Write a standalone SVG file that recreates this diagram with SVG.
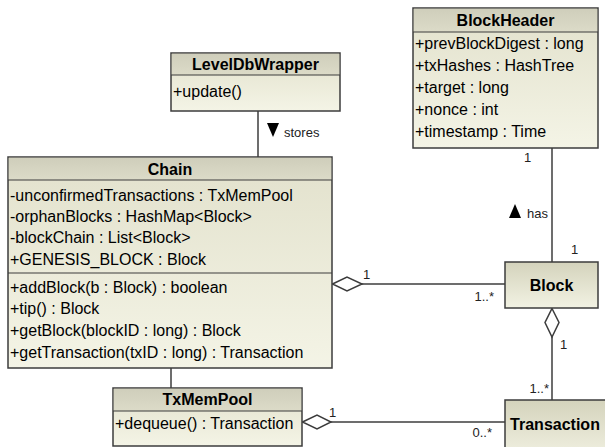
<svg xmlns="http://www.w3.org/2000/svg" width="605" height="447" viewBox="0 0 605 447">
  <defs>
    <linearGradient id="gHead" x1="0" y1="0" x2="0" y2="1">
      <stop offset="0" stop-color="#cfcebb"/>
      <stop offset="1" stop-color="#dcdbc8"/>
    </linearGradient>
    <linearGradient id="gBody" x1="0" y1="0" x2="0" y2="1">
      <stop offset="0" stop-color="#e2e1cc"/>
      <stop offset="1" stop-color="#f4f4e6"/>
    </linearGradient>
    <linearGradient id="gClass" x1="0" y1="0" x2="0" y2="1">
      <stop offset="0" stop-color="#d4d3bc"/>
      <stop offset="1" stop-color="#f2f2e3"/>
    </linearGradient>
  </defs>
  <style>
    text { font-family: "Liberation Sans", Arial, sans-serif; fill: #000; }
    .title { font-size: 16px; font-weight: bold; text-anchor: middle; }
    .member { font-size: 16px; }
    .lbl { font-size: 13px; fill: #222; }
    .box { stroke: #3c3c3c; stroke-width: 1.5; }
    .sep { stroke: #3c3c3c; stroke-width: 1.2; fill: none; }
    .conn { stroke: #3c3c3c; stroke-width: 1.5; fill: none; }
    .diamond { stroke: #3c3c3c; stroke-width: 1.5; fill: #fff; }
  </style>

  <!-- connectors -->
  <g id="connectors">
    <line class="conn" x1="258" y1="111" x2="258" y2="157"/>
    <line class="conn" x1="171" y1="368" x2="171" y2="388"/>
    <line class="conn" x1="362" y1="284" x2="505" y2="284"/>
    <polygon class="diamond" points="332.5,284 347,277 362,284 347,291"/>
    <line class="conn" x1="552" y1="148" x2="552" y2="262"/>
    <line class="conn" x1="552" y1="337" x2="552" y2="400"/>
    <polygon class="diamond" points="552,308.5 559,322.5 552,337 545,322.5"/>
    <line class="conn" x1="331" y1="422" x2="505" y2="422"/>
    <polygon class="diamond" points="302.5,422 317,415 331,422 317,429"/>

    <!-- association names -->
    <polygon points="267,123 279,123 273,137" fill="#000"/>
    <text class="lbl" x="284" y="137">stores</text>
    <polygon points="509,218 521,218 515,204" fill="#000"/>
    <text class="lbl" x="527" y="218">has</text>

    <!-- multiplicities -->
    <text class="lbl" x="363" y="279">1</text>
    <text class="lbl" x="494" y="301" text-anchor="end">1..*</text>
    <text class="lbl" x="524" y="162">1</text>
    <text class="lbl" x="571" y="254">1</text>
    <text class="lbl" x="560" y="349">1</text>
    <text class="lbl" x="549" y="393" text-anchor="end">1..*</text>
    <text class="lbl" x="329" y="417">1</text>
    <text class="lbl" x="492" y="437" text-anchor="end">0..*</text>
  </g>

  <!-- LevelDbWrapper -->
  <g id="LevelDbWrapper">
    <rect class="box" x="171" y="53" width="169" height="58" fill="url(#gBody)"/>
    <rect x="171.75" y="53.75" width="167.5" height="21.25" fill="url(#gHead)"/>
    <line class="sep" x1="171" y1="75" x2="340" y2="75"/>
    <text class="title" x="255.5" y="70">LevelDbWrapper</text>
    <text class="member" x="173" y="97">+update()</text>
  </g>

  <!-- BlockHeader -->
  <g id="BlockHeader">
    <rect class="box" x="413" y="8" width="185" height="140" fill="url(#gBody)"/>
    <rect x="413.75" y="8.75" width="183.5" height="23.25" fill="url(#gHead)"/>
    <line class="sep" x1="413" y1="32" x2="598" y2="32"/>
    <text class="title" x="505.5" y="26">BlockHeader</text>
    <text class="member" x="415" y="49">+prevBlockDigest : long</text>
    <text class="member" x="415" y="71">+txHashes : HashTree</text>
    <text class="member" x="415" y="93">+target : long</text>
    <text class="member" x="415" y="115">+nonce : int</text>
    <text class="member" x="415" y="137">+timestamp : Time</text>
  </g>

  <!-- Chain -->
  <g id="Chain">
    <rect class="box" x="8" y="157" width="324" height="211" fill="url(#gBody)"/>
    <rect x="8.75" y="157.75" width="322.5" height="22.25" fill="url(#gHead)"/>
    <line class="sep" x1="8" y1="180" x2="332" y2="180"/>
    <line class="sep" x1="8" y1="273" x2="332" y2="273"/>
    <text class="title" x="170" y="175">Chain</text>
    <text class="member" x="10" y="201">-unconfirmedTransactions : TxMemPool</text>
    <text class="member" x="10" y="222">-orphanBlocks : HashMap&lt;Block&gt;</text>
    <text class="member" x="10" y="243">-blockChain : List&lt;Block&gt;</text>
    <text class="member" x="10" y="265">+GENESIS_BLOCK : Block</text>
    <text class="member" x="10" y="293">+addBlock(b : Block) : boolean</text>
    <text class="member" x="10" y="314">+tip() : Block</text>
    <text class="member" x="10" y="336">+getBlock(blockID : long) : Block</text>
    <text class="member" x="10" y="358">+getTransaction(txID : long) : Transaction</text>
  </g>

  <!-- TxMemPool -->
  <g id="TxMemPool">
    <rect class="box" x="113" y="388" width="189" height="58" fill="url(#gBody)"/>
    <rect x="113.75" y="388.75" width="187.5" height="22.25" fill="url(#gHead)"/>
    <line class="sep" x1="113" y1="411" x2="302" y2="411"/>
    <text class="title" x="207.5" y="405">TxMemPool</text>
    <text class="member" x="115" y="429">+dequeue() : Transaction</text>
  </g>

  <!-- Block -->
  <g id="Block">
    <rect class="box" x="505" y="262" width="93" height="46" fill="url(#gClass)"/>
    <text class="title" x="551.5" y="291">Block</text>
  </g>

  <!-- Transaction -->
  <g id="Transaction">
    <rect class="box" x="505" y="400" width="104" height="60" fill="url(#gClass)"/>
    <text class="title" x="555" y="430">Transaction</text>
  </g>
</svg>
